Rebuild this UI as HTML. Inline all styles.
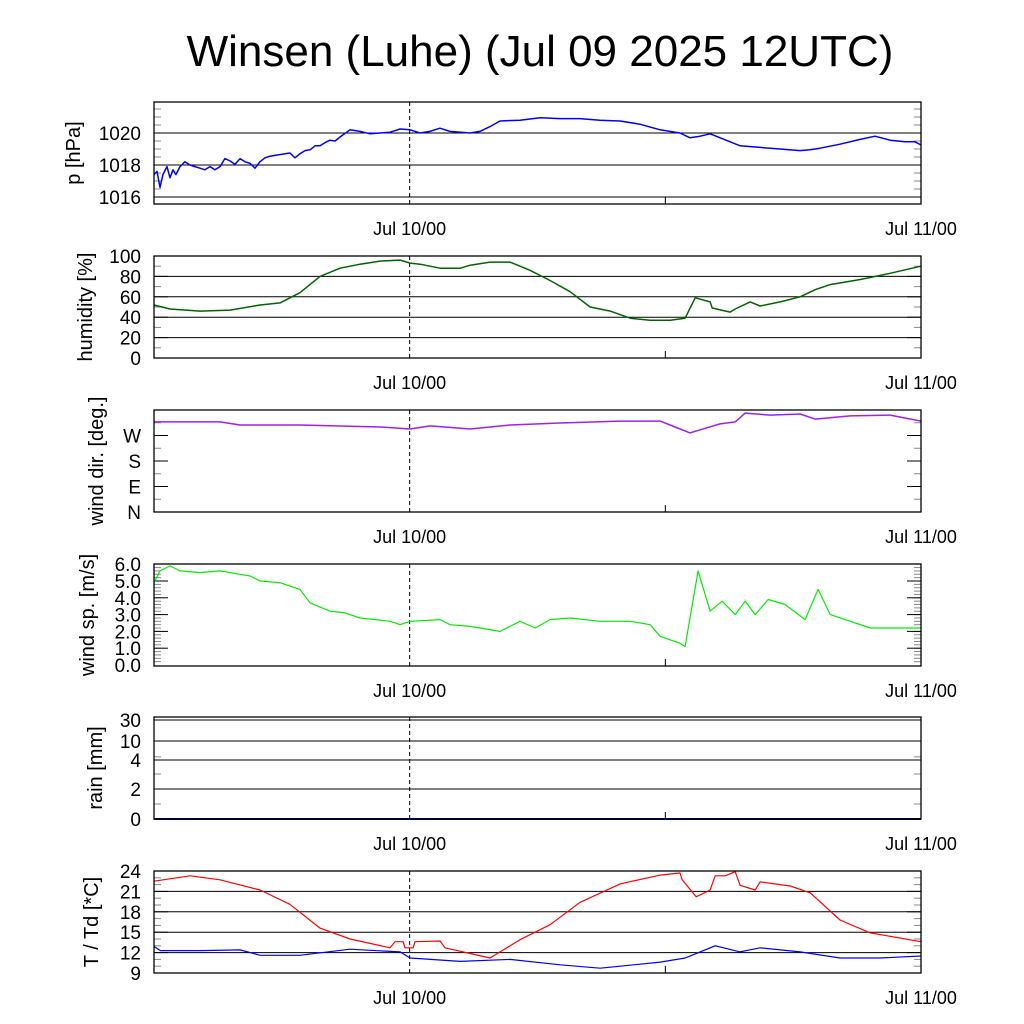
<!DOCTYPE html>
<html><head><meta charset="utf-8"><style>
body{margin:0;background:#fff}
svg{display:block;font-family:"Liberation Sans",sans-serif}
</style></head><body>
<svg id="c" width="1024" height="1024" viewBox="0 0 1024 1024">
<text x="540" y="66" font-size="44" text-anchor="middle">Winsen (Luhe) (Jul 09 2025 12UTC)</text>
</svg>
<script>
const xLabels=["Jul 10/00","Jul 11/00"];
const xLabelHours=[12,36];
const pT=[0,.14,.28,.42,.61,.75,.89,1.03,1.22,1.45,1.69,1.92,2.16,2.39,2.63,2.86,3.1,3.33,3.57,3.8,4.04,4.27,4.51,4.74,4.97,5.21,5.44,5.68,6.15,6.38,6.62,6.85,7.09,7.32,7.56,7.79,8.03,8.26,8.5,8.73,9.2,9.67,10.14,10.61,11.08,11.55,12.02,12.48,12.95,13.42,13.89,14.83,15.3,15.77,16.24,17.18,18.12,19.06,19.99,20.93,21.87,22.81,23.75,24.69,25.16,25.63,26.1,26.57,27.51,28.44,29.38,30.32,30.79,31.26,32.2,33.14,33.84,34.55,35.25,35.72,36];
const pV=[1017.4,1017.6,1016.6,1017.4,1017.9,1017.2,1017.7,1017.4,1017.9,1018.2,1018.0,1017.9,1017.8,1017.7,1017.9,1017.7,1017.9,1018.4,1018.25,1018.05,1018.4,1018.2,1018.1,1017.8,1018.2,1018.45,1018.55,1018.6,1018.7,1018.75,1018.45,1018.7,1018.9,1018.95,1019.2,1019.2,1019.4,1019.55,1019.5,1019.75,1020.2,1020.1,1019.95,1020.0,1020.05,1020.25,1020.2,1020.0,1020.1,1020.3,1020.1,1020.0,1020.1,1020.4,1020.75,1020.8,1020.95,1020.9,1020.9,1020.8,1020.75,1020.55,1020.2,1020.0,1019.7,1019.8,1019.95,1019.7,1019.2,1019.1,1019.0,1018.9,1018.95,1019.05,1019.3,1019.6,1019.8,1019.55,1019.45,1019.45,1019.25];
const hT=[0,.75,2.16,3.57,4.98,5.92,6.85,7.79,8.73,9.67,10.61,11.55,12.02,12.49,13.43,14.37,14.84,15.77,16.71,17.65,18.59,19.53,20.47,21.41,22.35,23.29,24.23,24.93,25.4,26.1,26.2,27.04,27.28,27.98,28.45,29.39,30.33,31.03,31.74,33.15,34.55,36];
const hV=[52,48,46,47,52,54,64,80,88,92,95,96,93,92,88,88,91,94,94,86,76,65,50,46,39,37,37,39,59,55,49,45,48,55,51,55,60,67,72,77,83,90];
const dT=[0,3.1,4.04,6.85,10.61,12.02,12.96,14.84,16.71,19.06,21.88,23.76,24.46,25.16,25.63,26.57,27.28,27.75,28.92,30.33,31.03,32.67,34.55,36];
const dV=[318,318,307,307,300,293,304,293,307,314,321,321,300,279,290,311,318,349,342,346,328,339,342,321];
const sT=[0,.28,.75,1.22,2.16,3.1,4.04,4.51,4.98,5.92,6.85,7.32,8.26,8.97,9.67,11.08,11.55,12.02,13.43,13.9,14.84,16.24,17.18,17.89,18.59,19.53,20.94,22.35,23.29,23.76,24.69,24.93,25.54,26.1,26.67,27.28,27.75,28.22,28.83,29.62,30.56,31.17,31.74,32.68,33.62,36];
const sV=[4.9,5.6,5.9,5.6,5.5,5.6,5.4,5.3,5.0,4.9,4.5,3.7,3.2,3.1,2.8,2.6,2.4,2.6,2.7,2.4,2.3,2.0,2.6,2.2,2.7,2.8,2.6,2.6,2.4,1.7,1.3,1.1,5.6,3.2,3.8,3.0,3.8,3.0,3.9,3.6,2.7,4.5,3.0,2.6,2.2,2.2];
const rT=[0,36];
const rV=[0,0];
const tT=[0,1.69,3.1,4.98,6.38,7.79,9.2,11.08,11.31,11.69,11.78,12.16,12.25,13.43,13.66,15.77,16.24,17.18,18.59,20,21.88,23.76,24.69,24.79,25.45,26.1,26.34,26.81,27.28,27.51,28.22,28.45,29.86,30.8,32.2,33.62,36];
const tV=[22.5,23.3,22.7,21.2,19.1,15.6,14.0,12.7,13.6,13.6,12.7,12.7,13.6,13.7,12.7,11.2,12.1,13.9,16.1,19.4,22.1,23.4,23.7,22.7,20.2,21.2,23.3,23.3,23.9,21.9,21.2,22.4,21.8,20.8,16.8,14.9,13.6];
const tdT=[0,.3,2.16,4.04,4.98,6.85,9.2,11.55,12.02,14.37,16.71,19.06,20.94,21.88,23.76,24.93,25.63,26.34,27.51,28.45,30.33,32.2,34.08,36];
const tdV=[12.9,12.3,12.3,12.4,11.6,11.6,12.5,12.1,11.2,10.7,11.0,10.2,9.7,10.0,10.6,11.2,12.1,13.0,12.1,12.7,12.1,11.2,11.2,11.5];

const NS='http://www.w3.org/2000/svg';
const svg=document.getElementById('c');
const X0=154,X1=921,H=102;
const xs=h=>X0+h*(X1-X0)/36;
function mk(tag,at,parent){const e=document.createElementNS(NS,tag);for(const k in at)e.setAttribute(k,at[k]);(parent||svg).appendChild(e);return e;}

function panel(cfg){
  const g=mk('g',{});
  
  
  const top=cfg.top,bot=top+H;
  cfg.grid.forEach(v=>{const y=cfg.ys(v);const l=mk('line',{x1:X0,x2:X1,y1:y,y2:y,stroke:'#000','stroke-width':1},g);
    
    });
  cfg.minor.forEach(v=>{const y=cfg.ys(v);
    mk('line',{x1:X0,x2:X0+7,y1:y,y2:y,stroke:'#888'},g);mk('line',{x1:X1-7,x2:X1,y1:y,y2:y,stroke:'#888'},g);});
  cfg.major.forEach(v=>{const y=cfg.ys(v);
    mk('line',{x1:X0,x2:X0+14,y1:y,y2:y,stroke:'#000'},g);mk('line',{x1:X1-14,x2:X1,y1:y,y2:y,stroke:'#000'},g);});
  const dl=mk('line',{x1:xs(12),x2:xs(12),y1:top,y2:bot,stroke:'#000','stroke-dasharray':'4,3'},g);
  
  
  mk('line',{x1:xs(24),x2:xs(24),y1:bot-7,y2:bot,stroke:'#000'},g);
  const d=cfg.t.map((h,i)=>(i?'L':'M')+xs(h).toFixed(1)+','+cfg.ys(cfg.v[i]).toFixed(1)).join('');
  const p=mk('path',{d:d,fill:'none',stroke:cfg.color,'stroke-width':cfg.sw||1.5,'stroke-linejoin':'round'},g);
  
  
  if(cfg.t2){const d2=cfg.t2.map((h,i)=>(i?'L':'M')+xs(h).toFixed(1)+','+cfg.ys(cfg.v2[i]).toFixed(1)).join('');
    const p2=mk('path',{d:d2,fill:'none',stroke:cfg.color2,'stroke-width':1.2},g);
    
    }
  const fr=mk('rect',{x:X0,y:top,width:X1-X0,height:H,fill:'none',stroke:'#000','stroke-width':1.3},g);
  
  
  cfg.labels.forEach((s,i)=>{const t=mk('text',{x:141,y:cfg.ys(cfg.labelVals[i])+7,'font-size':19,'text-anchor':'end'},g);t.textContent=s;
    
    });
  const cy=top+H/2;
  const tt=mk('text',{x:0,y:0,'font-size':20,'text-anchor':'middle',transform:`translate(${cfg.tx},${cy}) rotate(-90)`},g);
  tt.textContent=cfg.title;
  
  
  xLabels.forEach((s,i)=>{const t=mk('text',{x:xs(xLabelHours[i]),y:bot+31,'font-size':18,'text-anchor':'middle'},g);t.textContent=s;
    
    });
}
function range(a,b,s){const r=[];for(let v=a;v<=b+1e-9;v+=s)r.push(+v.toFixed(3));return r;}

panel({name:'pressure',top:102,tx:80,ys:v=>133-(v-1020)*16,grid:[1016,1018,1020],major:[1016,1018,1020],minor:range(1016,1021.5,0.5),
  labels:['1016','1018','1020'],labelVals:[1016,1018,1020],title:'p [hPa]',t:pT,v:pV,color:'#0000ff'});
panel({name:'humidity',top:256,tx:92,ys:v=>358-v*1.02,grid:[20,40,60,80,100],major:range(0,100,20),minor:range(0,100,10),
  labels:['0','20','40','60','80','100'],labelVals:[0,20,40,60,80,100],title:'humidity [%]',t:hT,v:hV,color:'#006400'});
panel({name:'wind-direction',top:410,tx:103,ys:v=>512-v*102/360,grid:[],major:[90,180,270],minor:range(45,315,45),
  labels:['N','E','S','W'],labelVals:[0,90,180,270],title:'wind dir. [deg.]',t:dT,v:dV,color:'#a020f0'});
panel({name:'wind-speed',top:564,tx:94,ys:v=>665-v*16.8,grid:[],major:range(1,5,1),minor:range(0.2,5.8,0.2),
  labels:['0.0','1.0','2.0','3.0','4.0','5.0','6.0'],labelVals:[0,1,2,3,4,5,6],title:'wind sp. [m/s]',t:sT,v:sV,color:'#00ee00',sw:1.2});
const rainY=v=>{const a=[0,1,2,3,4,10,30],b=[819,804,789,774,760,741,720];for(let i=1;i<a.length;i++)if(v<=a[i])return b[i-1]+(v-a[i-1])/(a[i]-a[i-1])*(b[i]-b[i-1]);return 719;};
panel({name:'rain',top:717,tx:102,ys:rainY,grid:[2,4,10,30],major:[2,4,10,30],minor:[1,3,5],
  labels:['0','2','4','10','30'],labelVals:[0,2,4,10,30],title:'rain [mm]',t:rT,v:rV,color:'#00008b',sw:2});
panel({name:'temperature',top:871,tx:98,ys:v=>871+(24-v)*6.8,grid:[12,15,18,21],major:[12,15,18,21],minor:range(10,23,1),
  labels:['9','12','15','18','21','24'],labelVals:[9,12,15,18,21,24],title:'T / Td [*C]',t:tT,v:tV,color:'#ff0000',sw:1.2,t2:tdT,v2:tdV,color2:'#0000ff'});
</script>
</body></html>
